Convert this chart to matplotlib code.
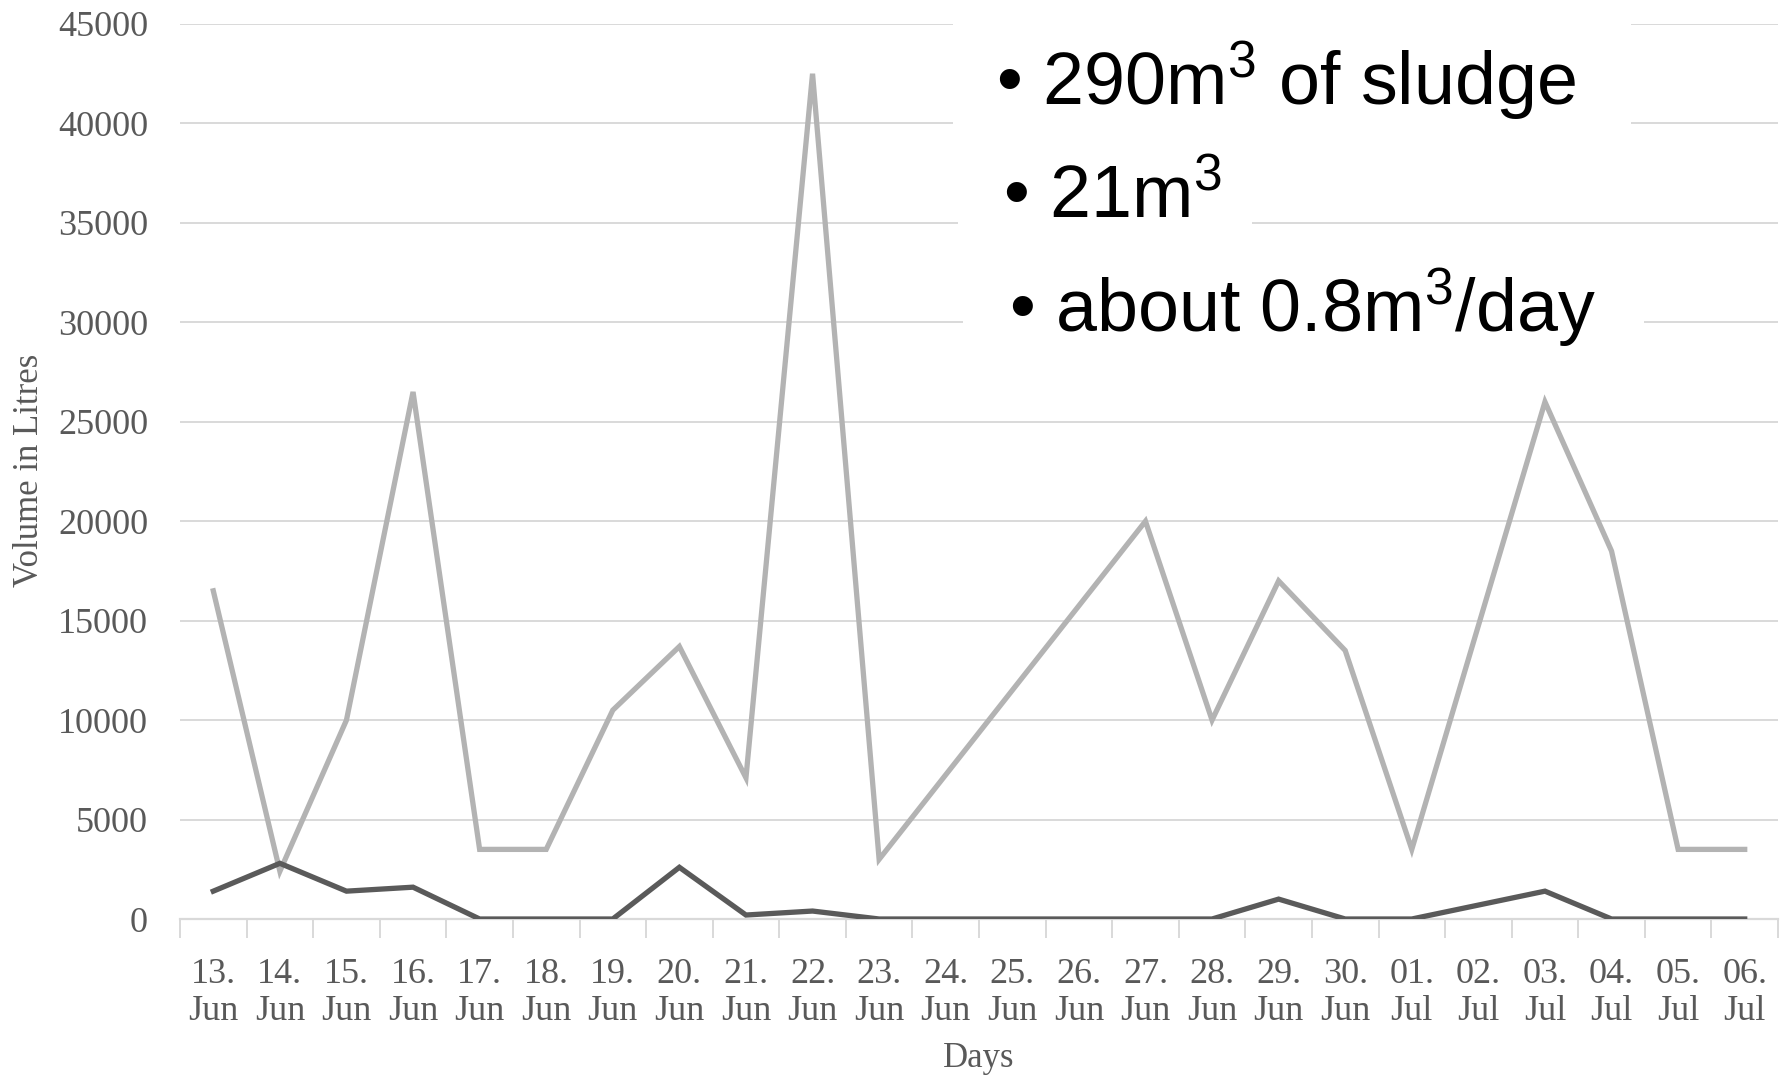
import numpy as np
import matplotlib.pyplot as plt
from matplotlib.patches import Rectangle
from matplotlib.ticker import FixedLocator

days = ["13.", "14.", "15.", "16.", "17.", "18.", "19.", "20.", "21.", "22.", "23.", "24.",
        "25.", "26.", "27.", "28.", "29.", "30.", "01.", "02.", "03.", "04.", "05.", "06."]
months = ["Jun"] * 18 + ["Jul"] * 6

# None = no reading that day, the line just connects the neighbours
sludge_in = [16500, 2400, 10000, 26500, 3500, 3500, 10500, 13700, 7100, 42500, 3000, None,
             None, None, 20000, 10000, 17000, 13500, 3500, None, 26000, 18500, 3500, 3500]
sludge_out = [1400, 2800, 1400, 1600, 0, 0, 0, 2600, 200, 400, 0, 0,
              0, 0, 0, 0, 1000, 0, 0, None, 1400, 0, 0, 0]

notes = ["\u2022 290m$^3$ of sludge", "\u2022 21m$^3$", "\u2022 about 0.8m$^3$/day"]

W, H = 1787, 1075
SERIF = ["Liberation Serif", "DejaVu Serif"]
SANS = ["Liberation Sans", "DejaVu Sans"]
GREY_TXT = "#595959"
GRID = "#d9d9d9"

plt.rcParams["mathtext.fontset"] = "custom"
plt.rcParams["mathtext.rm"] = "Liberation Sans"
plt.rcParams["mathtext.it"] = "Liberation Sans"
plt.rcParams["mathtext.default"] = "regular"


def connected(values):
    x = [i for i, v in enumerate(values) if v is not None]
    y = [v for v in values if v is not None]
    return x, y


def white_patch(fig, x0, y0, x1, y1):
    # pixel box (top-left origin) -> figure fraction
    fig.patches.append(Rectangle((x0 / W, 1 - y1 / H), (x1 - x0) / W, (y1 - y0) / H,
                                 transform=fig.transFigure, facecolor="white",
                                 edgecolor="none", zorder=5))


def main():
    fig = plt.figure(figsize=(W / 100, H / 100), dpi=100)
    ax = fig.add_axes([180 / W, 1 - 919 / H, 1598 / W, 895 / H])

    x, y = connected(sludge_in)
    ax.plot(x, y, color="#b3b3b3", lw=3.8, solid_joinstyle="miter", zorder=3)
    x, y = connected(sludge_out)
    ax.plot(x, y, color="#5a5a5a", lw=3.8, solid_joinstyle="miter", zorder=4)

    ax.set_xlim(-0.5, len(days) - 0.5)
    ax.set_ylim(0, 45000)
    ax.set_yticks(np.arange(0, 45001, 5000))
    ax.grid(axis="y", color=GRID, lw=1.4, zorder=0)
    ax.set_axisbelow(True)

    ax.set_xticks(range(len(days)))
    ax.set_xticklabels([f"{d}\n{m}" for d, m in zip(days, months)])
    ax.xaxis.set_minor_locator(FixedLocator(np.arange(-0.5, len(days), 1.0)))
    ax.tick_params(axis="x", which="major", length=0, pad=28)
    ax.tick_params(axis="x", which="minor", length=14, width=1.4, color=GRID)
    ax.tick_params(axis="y", length=0, pad=23)

    for lab in ax.get_xticklabels() + ax.get_yticklabels():
        lab.set_fontfamily(SERIF)
        lab.set_fontsize(26)
        lab.set_color(GREY_TXT)
        lab.set_linespacing(1.15)

    for side in ["left", "top", "right"]:
        ax.spines[side].set_visible(False)
    ax.spines["bottom"].set_color(GRID)
    ax.spines["bottom"].set_linewidth(1.6)

    fig.text(30 / W, 1 - 470 / H, "Volume in Litres", rotation=90, ha="center", va="center",
             fontfamily=SERIF, fontsize=25, color=GREY_TXT)
    fig.text(979 / W, 1 - 1067 / H, "Days", ha="center", va="baseline",
             fontfamily=SERIF, fontsize=25, color=GREY_TXT)

    # bullet notes pasted over the plot, each on its own white patch
    white_patch(fig, 953, 0, 1631, 175)
    white_patch(fig, 958, 150, 1252, 268)
    white_patch(fig, 963, 262, 1644, 385)
    fig.text(0.5575, 0.925, notes[0], fontfamily=SANS, fontsize=53,
             va="center", ha="left", zorder=10)
    fig.text(0.561, 0.8153, notes[1], fontfamily=SANS, fontsize=53,
             va="center", ha="left", zorder=10)
    fig.text(0.5645, 0.7135, notes[2], fontfamily=SANS, fontsize=53,
             va="center", ha="left", zorder=10)

    fig.savefig("out.png", dpi=100, facecolor="white")


if __name__ == "__main__":
    main()
